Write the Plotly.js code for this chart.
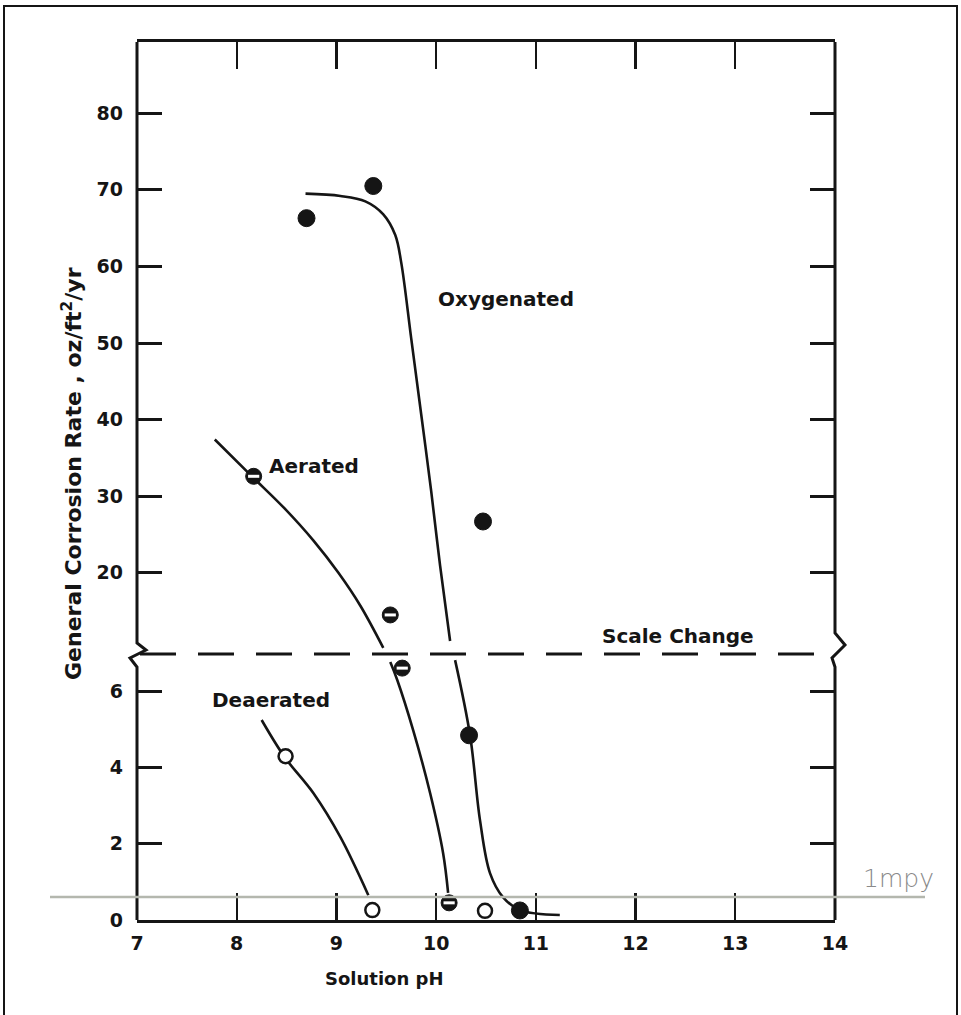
<!DOCTYPE html>
<html>
<head>
<meta charset="utf-8">
<script src="https://cdn.plot.ly/plotly-3.0.1.min.js"></script>
<style>html,body{margin:0;padding:0;background:#fff;}#chart{width:961px;height:1015px;}</style>
</head>
<body>
<div id="chart"></div>
<script>
// ---- data ----
const phTicks = [7, 8, 9, 10, 11, 12, 13, 14];
const upperTicks = [20, 30, 40, 50, 60, 70, 80];
const lowerTicks = [0, 2, 4, 6];
const upperRange = [9.4, 89.3];
const lowerRange = [0, 6.97];
const mpyLevel = 0.6;

// Oxygenated (filled circles)
const oxyUpperX = [8.70, 9.37, 10.47];
const oxyUpperY = [66.3, 70.5, 26.7];
const oxyLowerX = [10.33, 10.84];
const oxyLowerY = [4.84, 0.25];
const oxyCurveUpperX = [8.69, 9.04, 9.29, 9.47, 9.59, 9.65, 9.75, 9.85, 9.95, 10.04, 10.14];
const oxyCurveUpperY = [69.5, 69.2, 68.5, 66.8, 64.1, 60.5, 50.6, 40.7, 30.7, 20.9, 11.1];
const oxyCurveLowerX = [10.19, 10.34, 10.44, 10.54, 10.67, 10.84, 11.24];
const oxyCurveLowerY = [6.81, 4.84, 2.61, 1.23, 0.60, 0.26, 0.13];

// Aerated (half-filled circles)
const aerUpperX = [8.17, 9.54];
const aerUpperY = [32.6, 14.5];
const aerLowerX = [9.66, 10.13];
const aerLowerY = [6.6, 0.45];
const aerCurveUpperX = [7.78, 8.16, 8.48, 8.77, 9.02, 9.24, 9.47];
const aerCurveUpperY = [37.4, 32.5, 28.4, 24.2, 20.0, 15.7, 10.2];
const aerCurveLowerX = [9.54, 9.61, 9.77, 9.94, 10.07, 10.12];
const aerCurveLowerY = [6.76, 6.29, 4.97, 3.32, 1.75, 0.71];

// Deaerated (open circles)
const deaLowerX = [8.49, 9.36, 10.49];
const deaLowerY = [4.29, 0.26, 0.24];
const deaCurveX = [8.25, 8.48, 8.77, 9.04, 9.32];
const deaCurveY = [5.24, 4.27, 3.32, 2.17, 0.65];

// ---- styling ----
const ink = '#151515';
const fontFam = '"DejaVu Sans", "Liberation Sans", sans-serif';
const curveLine = {color: ink, width: 2.6, shape: 'spline', smoothing: 1};

function curve(x, y, ya) {
  return {x: x, y: y, yaxis: ya, mode: 'lines', line: curveLine, hoverinfo: 'skip'};
}
function filled(x, y, ya) {
  return {x: x, y: y, yaxis: ya, mode: 'markers',
    marker: {symbol: 'circle', size: 17, color: ink, line: {color: ink, width: 1}}};
}
function half(x, y, ya) {
  return [
    {x: x, y: y, yaxis: ya, mode: 'markers',
      marker: {symbol: 'circle', size: 16, color: ink, line: {color: ink, width: 1}}},
    {x: x, y: y, yaxis: ya, mode: 'markers',
      marker: {symbol: 'line-ew-open', size: 8, color: '#ffffff', line: {color: '#ffffff', width: 3}}}
  ];
}
function open(x, y, ya) {
  return {x: x, y: y, yaxis: ya, mode: 'markers',
    marker: {symbol: 'circle', size: 14, color: '#ffffff', line: {color: ink, width: 2.5}}};
}

const traces = [
  {x: [], y: [], xaxis: 'x2', yaxis: 'y2', mode: 'markers'},
  curve(oxyCurveUpperX, oxyCurveUpperY, 'y2'),
  curve(oxyCurveLowerX, oxyCurveLowerY, 'y'),
  curve(aerCurveUpperX, aerCurveUpperY, 'y2'),
  curve(aerCurveLowerX, aerCurveLowerY, 'y'),
  curve(deaCurveX, deaCurveY, 'y'),
  filled(oxyUpperX, oxyUpperY, 'y2'),
  filled(oxyLowerX, oxyLowerY, 'y'),
  ...half(aerUpperX, aerUpperY, 'y2'),
  ...half(aerLowerX, aerLowerY, 'y'),
  open(deaLowerX, deaLowerY, 'y')
];

// plot area geometry: l=137, r=126, t=42, b=95 -> 698 x 878
const W = 698, H = 878, L = 137, B = 920;
const px = v => (v - L) / W;
const py = v => (B - v) / H;
const split = py(654);

const tickFont = {family: fontFam, size: 19, color: ink, weight: 700};
const labFont = {family: fontFam, size: 20, color: ink, weight: 700};

function ann(xref, yref, x, y, text, font, extra) {
  return Object.assign({xref: xref, yref: yref, x: x, y: y, text: text, showarrow: false,
    xanchor: 'center', yanchor: 'middle', font: font}, extra || {});
}

const layout = {
  width: 961, height: 1015,
  margin: {l: 137, r: 126, t: 42, b: 95, pad: 0},
  paper_bgcolor: '#ffffff', plot_bgcolor: '#ffffff',
  showlegend: false,
  xaxis: {
    range: [7, 14], tickvals: phTicks, ticktext: phTicks.map(String),
    ticks: 'inside', ticklen: 27, tickwidth: 2.2, tickcolor: ink,
    showline: true, linewidth: 3, linecolor: ink, mirror: false,
    showgrid: false, zeroline: false, tickfont: tickFont, ticklabelstandoff: 4
  },
  xaxis2: {
    range: [7, 14], tickvals: phTicks, anchor: 'y2', side: 'top', overlaying: 'x',
    ticks: 'inside', ticklen: 27, tickwidth: 2.2, tickcolor: ink, showticklabels: false,
    showline: true, linewidth: 3, linecolor: ink, showgrid: false, zeroline: false
  },
  yaxis: {
    domain: [0, split], range: lowerRange, tickvals: lowerTicks, ticktext: lowerTicks.map(String),
    ticks: 'inside', ticklen: 25, tickwidth: 3, tickcolor: ink, mirror: 'ticks',
    showline: false, showgrid: false, zeroline: false, tickfont: tickFont, ticklabelstandoff: 13
  },
  yaxis2: {
    domain: [split, 1], range: upperRange, tickvals: upperTicks, ticktext: upperTicks.map(String),
    ticks: 'inside', ticklen: 25, tickwidth: 3, tickcolor: ink, mirror: 'ticks', anchor: 'x',
    showline: false, showgrid: false, zeroline: false, tickfont: tickFont, ticklabelstandoff: 13
  },
  shapes: [
    // outer border
    {type: 'rect', xref: 'paper', yref: 'paper', x0: px(4), x1: px(957), y0: py(1030), y1: py(6),
      line: {color: ink, width: 2}, fillcolor: 'rgba(0,0,0,0)'},
    // left frame with break
    {type: 'path', xref: 'paper', yref: 'paper', line: {color: ink, width: 3},
      path: `M 0,0 L 0,${py(667)} L ${px(130)},${py(658)} L ${px(146)},${py(650)} L 0,${py(643)} L 0,1`},
    // right frame with break
    {type: 'path', xref: 'paper', yref: 'paper', line: {color: ink, width: 3},
      path: `M 1,0 L 1,${py(667)} L ${px(832)},${py(658)} L ${px(845)},${py(645)} L 1,${py(633)} L 1,1`},
    // scale change dashed line
    {type: 'line', xref: 'paper', yref: 'paper', x0: px(140), x1: px(832), y0: split, y1: split,
      line: {color: ink, width: 3, dash: '36px,22px'}},
    // 1 mpy line
    {type: 'line', xref: 'paper', yref: 'y', x0: px(50), x1: px(925), y0: mpyLevel, y1: mpyLevel,
      line: {color: '#b4b7ae', width: 2.5}}
  ],
  annotations: [
    ann('paper', 'paper', px(72), py(474), 'General Corrosion Rate , oz/ft<sup>2</sup>/yr',
      {family: fontFam, size: 22, color: ink, weight: 700}, {textangle: -90}),
    ann('paper', 'paper', px(384), py(978), 'Solution pH', {family: fontFam, size: 18, color: ink, weight: 700}),
    ann('x', 'y2', 10.7, 55.8, 'Oxygenated', labFont),
    ann('x', 'y2', 8.78, 33.9, 'Aerated', labFont),
    ann('x', 'y', 8.34, 5.76, 'Deaerated', labFont),
    ann('x', 'y2', 12.43, 11.8, 'Scale Change', labFont),
    ann('paper', 'y', px(898), 1.1, '1mpy', {family: '"DejaVu Sans", sans-serif', size: 25, color: '#8a8a8a', weight: 300})
  ]
};

Plotly.newPlot('chart', traces, layout, {displayModeBar: false, staticPlot: true});
</script>
</body>
</html>
